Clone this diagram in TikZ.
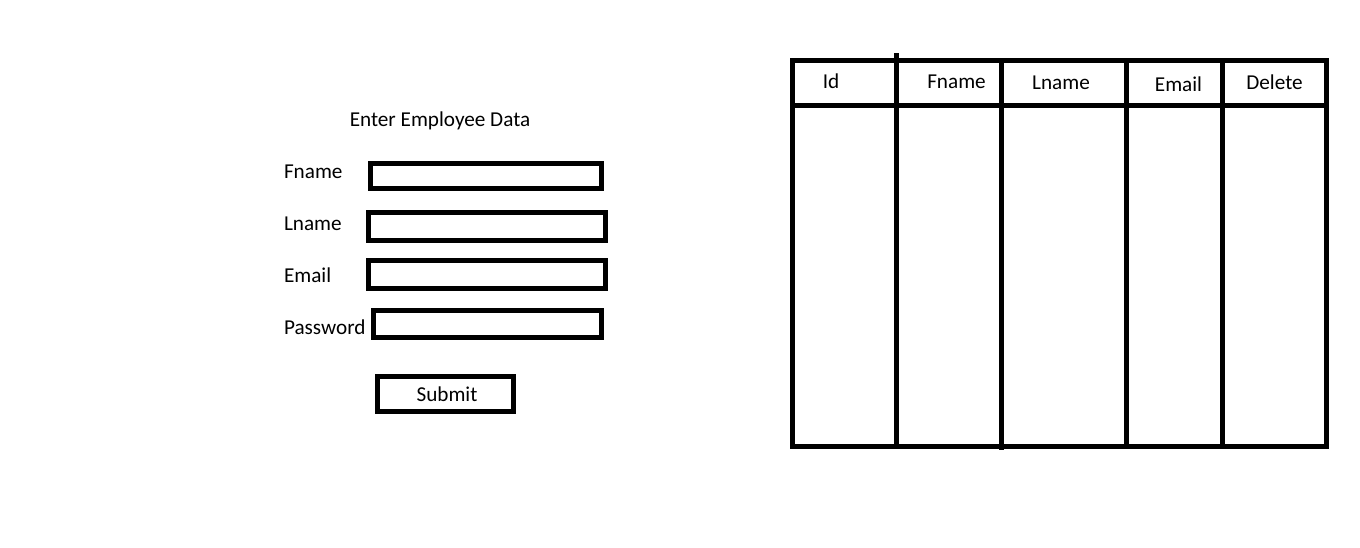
\documentclass[tikz,border=0pt]{standalone}
\usepackage{fontspec}
\setmainfont{Carlito}
\usetikzlibrary{positioning}

\begin{document}
\begin{tikzpicture}[x = 0.5pt, y = -0.5pt, line width = 2.5pt, every node/.style = {font=\fontsize{10.6}{12}\selectfont, inner sep = 0pt}]
\useasboundingbox (0,0) rectangle (1360,547);
% input form
\node[anchor=base] (title) at (440,126.5) {Enter Employee Data};
\node[anchor=base west] (fname) at (281.5,178) {Fname};
\node[anchor=base west] (lname) at (281.5,230) {Lname};
\node[anchor=base west] (email) at (281.5,282) {Email};
\node[anchor=base west] (password) at (281.5,334) {Password};
\draw (370,163) rectangle (601,188);
\draw (368,212) rectangle (605,240);
\draw (368,260) rectangle (605,288);
\draw (373,310) rectangle (601,337);
\draw (377,376) rectangle (513,411);
\node[anchor=base] (submit) at (447,401) {Submit};
% employee table
\draw (792,60) rectangle (1326,446);
\draw (792,105) -- (1326,105);
\draw (896.5,53) -- (896.5,446);
\draw (1001,60) -- (1001,450);
\draw (1126,60) -- (1126,446);
\draw (1222.5,60) -- (1222.5,446);
\node[anchor=base] (id) at (831,88) {Id};
\node[anchor=base] (tfname) at (956.5,88) {Fname};
\node[anchor=base] (tlname) at (1061,89) {Lname};
\node[anchor=base] (temail) at (1178.5,91.5) {Email};
\node[anchor=base] (tdelete) at (1274.5,89) {Delete};
\end{tikzpicture}
\end{document}
